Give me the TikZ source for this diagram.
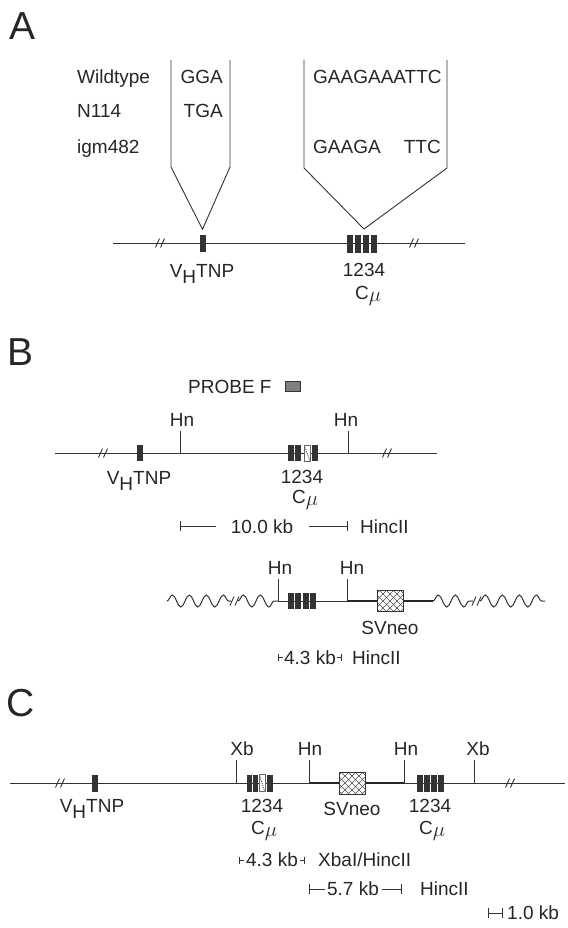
\documentclass[tikz,border=0pt]{standalone}
\usepackage{fontspec}
\setmainfont{Liberation Sans}
\usetikzlibrary{arrows.meta,decorations.pathmorphing}

\begin{document}
\begin{tikzpicture}[x=1pt, y=-1pt,
    every node/.style={font=\fontsize{19}{22}\selectfont, inner sep=0pt, text=black!85},
    panel/.style={font=\fontsize{39}{44}\selectfont, anchor=base west},
    lbl/.style={anchor=base},
    chrom/.style={draw=black!80, line width=1pt},
    dnathick/.style={draw=black!85, line width=2.8pt},
    wavy/.style={draw=black!80, line width=1pt, decorate,
        decoration={snake, segment length=17pt, amplitude=6pt}},
    brk/.style={draw=black!80, line width=0.9pt},
    sitetick/.style={draw=black!80, line width=0.9pt},
    site/.style={above=4pt},
    seq/.style={draw=black!80, line width=0.9pt},
    kbbar/.style={draw=black!80, line width=0.9pt},
    exon/.style={rectangle, fill=black!80, minimum width=6pt, minimum height=17pt},
    hexon/.style={exon, fill=white, draw=black!60, line width=0.5pt,
        path picture={\draw [black!70, line width=0.8pt, dash pattern=on 1.2pt off 1pt]
            (path picture bounding box.north west) -- (path picture bounding box.south east);}},
    neo/.style={rectangle, draw=black!80, fill=white, line width=0.6pt,
        minimum width=26pt, minimum height=21pt,
        path picture={\foreach \d in {-28,-21,...,28} {
            \draw [black!70, line width=0.5pt] ([xshift=\d pt]path picture bounding box.center)
                ++(-15pt,-15pt) -- ++(30pt,30pt);
            \draw [black!70, line width=0.5pt] ([xshift=\d pt]path picture bounding box.center)
                ++(-15pt,15pt) -- ++(30pt,-30pt);}}}]

    \useasboundingbox (0,0) rectangle (567,928);

    % A
    \node [panel] (A) at (9,40) {A};
    \node [anchor=base west] (wt) at (77,84) {Wildtype};
    \node [anchor=base west] (n114) at (77,118) {N114};
    \node [anchor=base west] (igm) at (77,154) {igm482};
    \node [anchor=base east] (wtV) at (223,84) {GGA};
    \node [anchor=base east] (n114V) at (223,118) {TGA};
    \node [anchor=base west] (wtC) at (313,84) {GAAGAAATTC};
    \node [anchor=base west] (igmC) at (313,154) {GAAGA};
    \node [anchor=base east] (igmC2) at (441,154) {TTC};

    \coordinate (chAl) at (113,243);
    \coordinate (chAr) at (465,243);
    \draw [chrom] (chAl) -- (chAr);
    \node [exon] (vhA) at (202.5,243) {};
    \foreach \x [count=\i] in {350,358,366,374}
        \node [exon, minimum height=18pt] (cmA\i) at (\x,244) {};
    \draw [seq] (171,60) -- (171,167) -- ([yshift=5pt]vhA.north) -- (230,167) -- (230,60);
    \draw [seq] (304,60) -- (304,168) -- (364,229) -- (447,168) -- (447,60);
    \node [lbl] (vhAl) at (202,277) {V\raisebox{-6pt}{H}TNP};
    \node [lbl] (numA) at (364,276) {1234};
    \node [lbl] (cmuA) at (368,299) {C\raisebox{-2pt}{\scalebox{1.2}{$\mu$}}};

    % B
    \node [panel] (B) at (7,365) {B};
    \node [anchor=base west] (probel) at (188,393) {PROBE F};
    \node [rectangle, draw=black!80, fill=black!50, line width=0.6pt,
           minimum width=15pt, minimum height=10pt] (probe) at (292.5,386) {};

    \coordinate (chBl) at (55,453);
    \coordinate (chBr) at (437,453);
    \draw [chrom] (chBl) -- (chBr);
    \node [exon, minimum height=16pt] (vhB) at (140,453) {};
    \node [exon, minimum height=16pt] (cmB1) at (291,453) {};
    \node [exon, minimum height=16pt] (cmB2) at (298,453) {};
    \node [hexon, minimum height=16pt] (cmB3) at (307,453) {};
    \node [exon, minimum height=16pt] (cmB4) at (314.5,453) {};
    \coordinate (hnB1) at (180,453);
    \coordinate (hnB2) at (348,453);
    \draw [sitetick] (hnB1) -- ++(0,-22) node [site, xshift=2pt] (hnB1l) {Hn};
    \draw [sitetick] (hnB2) -- ++(0,-22) node [site, xshift=-2pt] (hnB2l) {Hn};
    \node [lbl] (vhBl) at (139,484) {V\raisebox{-6pt}{H}TNP};
    \node [lbl] (numB) at (302,483) {1234};
    \node [lbl] (cmuB) at (305,503) {C\raisebox{-2pt}{\scalebox{1.2}{$\mu$}}};

    \coordinate (kbBa) at (180,526);
    \coordinate (kbBb) at (216,526);
    \coordinate (kbBc) at (309,526);
    \coordinate (kbBd) at (348,526);
    \draw [kbbar, {Bar[width=10pt]}-] (kbBa) -- (kbBb);
    \draw [kbbar, -{Bar[width=10pt]}] (kbBc) -- (kbBd);
    \node [lbl] (kbB) at (262,533) {10.0 kb};
    \node [anchor=base west] (hcB) at (360,533) {HincII};

    \coordinate (wvB1) at (167,601);
    \coordinate (wvB2) at (231,601);
    \coordinate (wvB3) at (238,601);
    \coordinate (hnB3) at (278,601);
    \coordinate (hnB4) at (347,601);
    \coordinate (wvB4) at (433,601);
    \coordinate (wvB5) at (473,601);
    \coordinate (wvB6) at (480,601);
    \coordinate (wvB7) at (545,601);
    \draw [wavy] (wvB1) -- (wvB2);
    \draw [wavy] (wvB3) -- (hnB3);
    \draw [chrom] (hnB3) -- (hnB4);
    \node [neo] (neoB) at (390,601) {};
    \draw [dnathick] (hnB4) -- (neoB.west);
    \draw [dnathick] (neoB.east) -- (wvB4);
    \draw [wavy] (wvB4) -- (wvB5);
    \draw [wavy] (wvB6) -- (wvB7);
    \foreach \x in {290.5,298,305.5,313}
        \node [exon, minimum height=16pt] at (\x,601) {};
    \draw [sitetick] (hnB3) -- ++(0,-22) node [site, xshift=2pt] (hnB3l) {Hn};
    \draw [sitetick] (hnB4) -- ++(0,-22) node [site, xshift=5pt] (hnB4l) {Hn};
    \node [lbl] (neoBl) at (390,634) {SVneo};

    \coordinate (kbB2a) at (278,657);
    \coordinate (kbB2b) at (283,657);
    \coordinate (kbB2c) at (337,657);
    \coordinate (kbB2d) at (342,657);
    \draw [kbbar, {Bar[width=7pt]}-] (kbB2a) -- (kbB2b);
    \draw [kbbar, -{Bar[width=7pt]}] (kbB2c) -- (kbB2d);
    \node [lbl] (kbB2) at (310,664) {4.3 kb};
    \node [anchor=base west] (hcB2) at (352,664) {HincII};

    % C
    \node [panel] (C) at (6,716) {C};
    \coordinate (chCl) at (10,783);
    \coordinate (hnC1) at (309,783);
    \coordinate (hnC2) at (404,783);
    \coordinate (chCr) at (565,783);
    \draw [chrom] (chCl) -- (hnC1);
    \node [neo, minimum height=22pt] (neoC) at (352,783) {};
    \draw [dnathick] (hnC1) -- (neoC.west);
    \draw [dnathick] (neoC.east) -- (hnC2);
    \draw [chrom] (hnC2) -- (chCr);
    \node [exon] (vhC) at (94.5,783) {};
    \node [exon, minimum width=5.5pt] (cmC1) at (249.5,783) {};
    \node [exon, minimum width=5.5pt] (cmC2) at (255.5,783) {};
    \node [hexon, minimum width=5.5pt] (cmC3) at (262,783) {};
    \node [exon, minimum width=5.5pt] (cmC4) at (270,783) {};
    \foreach \x [count=\i] in {419.5,426.5,433.5,440.5}
        \node [exon] (cmD\i) at (\x,783) {};
    \coordinate (xbC1) at (236,783);
    \coordinate (xbC2) at (474,783);
    \draw [sitetick] (xbC1) -- ++(0,-23) node [site, xshift=6pt] (xbC1l) {Xb};
    \draw [sitetick] (hnC1) -- ++(0,-23) node [site, xshift=1pt] (hnC1l) {Hn};
    \draw [sitetick] (hnC2) -- ++(0,-23) node [site, xshift=2pt] (hnC2l) {Hn};
    \draw [sitetick] (xbC2) -- ++(0,-23) node [site, xshift=4pt] (xbC2l) {Xb};
    \node [lbl] (vhCl) at (92,812) {V\raisebox{-6pt}{H}TNP};
    \node [lbl] (numC1) at (262,812) {1234};
    \node [lbl] (cmuC1) at (264,834) {C\raisebox{-2pt}{\scalebox{1.2}{$\mu$}}};
    \node [lbl] (neoCl) at (352,815) {SVneo};
    \node [lbl] (numC2) at (430,812) {1234};
    \node [lbl] (cmuC2) at (432,834) {C\raisebox{-2pt}{\scalebox{1.2}{$\mu$}}};

    \coordinate (kbCa) at (239,860);
    \coordinate (kbCb) at (244,860);
    \coordinate (kbCc) at (300,860);
    \coordinate (kbCd) at (305,860);
    \draw [kbbar, {Bar[width=7pt]}-] (kbCa) -- (kbCb);
    \draw [kbbar, -{Bar[width=7pt]}] (kbCc) -- (kbCd);
    \node [lbl] (kbC) at (272,866) {4.3 kb};
    \node [anchor=base west] (hcC) at (318,866) {XbaI/HincII};

    \coordinate (kbC2a) at (309,889);
    \coordinate (kbC2b) at (325,889);
    \coordinate (kbC2c) at (382,889);
    \coordinate (kbC2d) at (402,889);
    \draw [kbbar, {Bar[width=10pt]}-] (kbC2a) -- (kbC2b);
    \draw [kbbar, -{Bar[width=10pt]}] (kbC2c) -- (kbC2d);
    \node [lbl] (kbC2) at (353,895) {5.7 kb};
    \node [anchor=base west] (hcC2) at (420,895) {HincII};

    \coordinate (kbSa) at (488,913);
    \coordinate (kbSb) at (503,913);
    \draw [kbbar, {Bar[width=10pt]}-{Bar[width=10pt]}] (kbSa) -- (kbSb);
    \node [anchor=base west] (kbS) at (507,919) {1.0 kb};

    \foreach \x/\y in {160/243, 414/243, 103/453, 387/453, 234.5/601, 476.5/601, 60/783, 510/783}
        \draw [brk] (\x,\y) ++(-4.5,4.5) -- ++(4,-9) ++(1,9) -- ++(4,-9);
\end{tikzpicture}
\end{document}
